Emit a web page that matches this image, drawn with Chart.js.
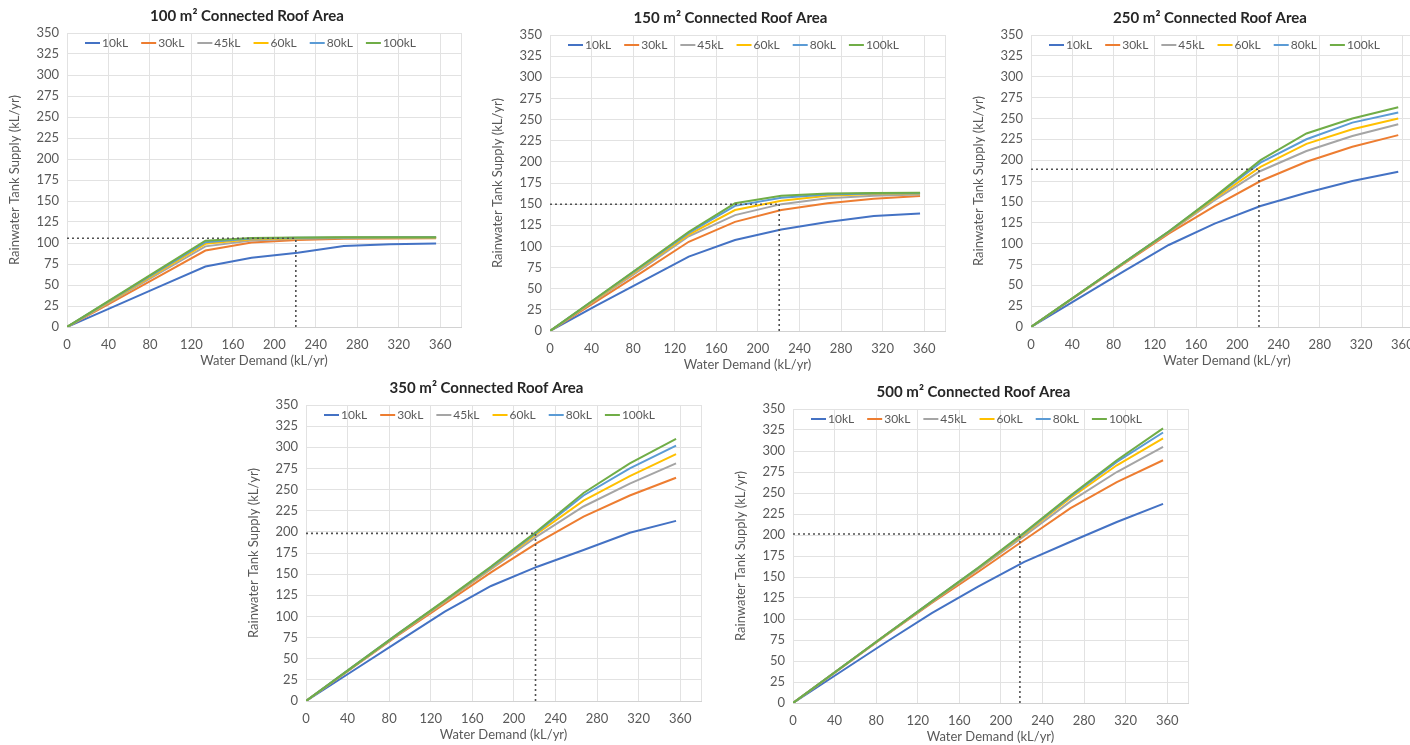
<!DOCTYPE html>
<html>
<head>
<meta charset="utf-8">
<title>Rainwater Tank Supply</title>
<script src="https://cdn.jsdelivr.net/npm/chart.js@4.4.0/dist/chart.umd.min.js"></script>
<style>
  html, body { margin: 0; padding: 0; background: #fff; }
  body { width: 1410px; height: 745px; position: relative; overflow: hidden; }
  canvas { position: absolute; }
</style>
</head>
<body>
<canvas id="c100"></canvas>
<canvas id="c150"></canvas>
<canvas id="c250"></canvas>
<canvas id="c350"></canvas>
<canvas id="c500"></canvas>
<script>
// Water demand (kL/yr) at which each tank size was simulated
const demand = [0, 44.5, 89, 133.5, 178, 222.5, 267, 311.5, 356];
const tankSizes = ['10kL', '30kL', '45kL', '60kL', '80kL', '100kL'];
const xTicks = [0, 40, 80, 120, 160, 200, 240, 280, 320, 360];
const xMax = 380;
const yMax = 350;
const yStep = 25;

// Rainwater tank supply (kL/yr), one row per tank size
const supply100 = [
    [0, 24, 48, 72, 82.5, 88.5, 96.5, 98.5, 99.5],
    [0, 30.3, 60.5, 91, 100.5, 103.5, 105, 105.5, 105.6],
    [0, 32, 64, 96, 103, 105, 106, 106.2, 106.3],
    [0, 33, 66, 99, 104.5, 105.8, 106.4, 106.5, 106.5],
    [0, 33.7, 67.3, 101, 105.5, 106.3, 106.6, 106.7, 106.7],
    [0, 34.3, 68.5, 102.8, 106, 106.6, 106.8, 106.8, 106.8]
];
const supply150 = [
    [0, 30, 59, 88, 107.5, 120, 129, 136, 139],
    [0, 35, 70, 105.5, 129, 143, 151, 156.5, 159.5],
    [0, 37, 74, 112, 137, 150, 157, 160, 161.5],
    [0, 38, 76, 114, 143, 154, 160, 162, 162.5],
    [0, 38.7, 77.3, 116, 148, 157.5, 161.5, 162.5, 163],
    [0, 39, 78, 117.4, 151, 160, 162.7, 163.3, 163.5]
];
const supply250 = [
    [0, 33, 66, 98.3, 124, 145, 161, 175, 186],
    [0, 37.5, 75, 112, 145, 175, 198, 216, 230],
    [0, 38, 76, 113.5, 152, 187, 211, 229, 243],
    [0, 38, 76, 114, 154, 192, 219.5, 237, 250],
    [0, 38, 76.3, 114.3, 155.5, 197, 225, 245, 257],
    [0, 38.2, 76.4, 114.5, 156, 200, 232, 250, 263.5]
];
const supply350 = [
    [0, 35.2, 70.4, 105.6, 136, 158.8, 178.5, 199, 213],
    [0, 39, 78, 115, 152, 187, 218, 243, 264],
    [0, 39.5, 79, 117, 156, 195, 230, 257, 281],
    [0, 39.7, 79.5, 118, 157, 198, 237, 266, 292],
    [0, 40, 80, 118.5, 158, 200, 243, 275, 302],
    [0, 40, 80, 119, 159, 201, 246, 281, 310]
];
const supply500 = [
    [0, 36, 72, 107, 138.5, 168, 192, 215.5, 237],
    [0, 40, 80, 119, 156, 194, 232, 263, 289],
    [0, 40.3, 80.5, 120, 159, 199, 240, 275, 305],
    [0, 40.4, 80.8, 120.5, 160, 201, 244, 283, 315],
    [0, 40.5, 81, 121, 160.5, 202, 246, 287, 322],
    [0, 40.5, 81, 121, 161, 203, 247, 289, 327]
];

// Dotted read-off lines (demand, supply) per roof area
const refDemand = [220.7, 220.5, 221, 220.8, 218.3];
const refSupply = [105.6, 149.8, 189, 198.2, 201.2];

const colors = ['#4472C4', '#ED7D31', '#A5A5A5', '#FFC000', '#5B9BD5', '#70AD47'];
const textColor = '#595959';
const gridColor = '#e2e2e2';
const fontFamily = 'Lato, "Open Sans", sans-serif';

// plot area of each panel in page pixels: left, top, right, bottom
const panels = [
    {id: 'c100', title: '100 m² Connected Roof Area', supply: supply100, plot: [67, 33, 461, 327]},
    {id: 'c150', title: '150 m² Connected Roof Area', supply: supply150, plot: [550, 35, 945, 331]},
    {id: 'c250', title: '250 m² Connected Roof Area', supply: supply250, plot: [1031, 35, 1423, 327]},
    {id: 'c350', title: '350 m² Connected Roof Area', supply: supply350, plot: [306, 405, 701, 701]},
    {id: 'c500', title: '500 m² Connected Roof Area', supply: supply500, plot: [793, 409, 1188, 703]}
];

const Y_AXIS_W = 60, X_AXIS_H = 42, TITLE_H = 26, RIGHT_W = 26;

// Excel-style legend in one row across the top of the plot area
const insideLegend = {
    id: 'insideLegend',
    afterDatasetsDraw(chart) {
        let ctx = chart.ctx, a = chart.chartArea;
        let x = a.left + 18, y = a.top + 10;
        ctx.save();
        ctx.font = '12px ' + fontFamily;
        ctx.textBaseline = 'middle';
        ctx.textAlign = 'left';
        chart.data.datasets.slice(0, tankSizes.length).forEach(function (ds) {
            ctx.strokeStyle = ds.borderColor;
            ctx.lineWidth = 2;
            ctx.beginPath();
            ctx.moveTo(x, y);
            ctx.lineTo(x + 15, y);
            ctx.stroke();
            x += 17;
            ctx.fillStyle = textColor;
            ctx.fillText(ds.label, x, y + 0.5);
            x += ctx.measureText(ds.label).width + 13;
        });
        ctx.restore();
    }
};

panels.forEach(function (p, k) {
    let canvas = document.getElementById(p.id);
    let [l, t, r, b] = p.plot;
    let left = l - Y_AXIS_W, top = t - TITLE_H;
    canvas.width = r + RIGHT_W - left;
    canvas.height = b + X_AXIS_H - top;
    canvas.style.left = left + 'px';
    canvas.style.top = top + 'px';

    let datasets = tankSizes.map((name, i) => ({
        label: name,
        data: demand.map((d, j) => ({x: d, y: p.supply[i][j]})),
        borderColor: colors[i],
        backgroundColor: colors[i],
        borderWidth: 2,
        pointRadius: 0,
        tension: 0,
        order: 10 - i
    }));

    let dotted = {
        borderColor: '#505050', borderWidth: 1.6, borderDash: [2, 3],
        pointRadius: 0, order: 0
    };
    datasets.push(Object.assign({label: 'ref-h', data: [{x: 0, y: refSupply[k]}, {x: refDemand[k], y: refSupply[k]}]}, dotted));
    datasets.push(Object.assign({label: 'ref-v', data: [{x: refDemand[k], y: 0}, {x: refDemand[k], y: refSupply[k]}]}, dotted));

    new Chart(canvas, {
        type: 'line',
        data: {datasets: datasets},
        options: {
            responsive: false,
            animation: false,
            layout: {padding: 0},
            plugins: {
                title: {
                    display: true, text: p.title, color: '#262626',
                    font: {family: fontFamily, size: 15, weight: 'bold'},
                    padding: {top: 0, bottom: 8}
                },
                legend: {display: false},
                tooltip: {enabled: false}
            },
            scales: {
                x: {
                    type: 'linear', min: 0, max: xMax,
                    afterBuildTicks: s => { s.ticks = xTicks.concat([xMax]).map(v => ({value: v})); },
                    afterFit: s => { s.height = X_AXIS_H; },
                    grid: {color: gridColor, drawTicks: false},
                    border: {color: '#d2d2d2'},
                    ticks: {
                        padding: 10, color: textColor, maxRotation: 0,
                        font: {family: fontFamily, size: 13},
                        callback: v => xTicks.includes(v) ? v : ''
                    },
                    title: {
                        display: true, text: 'Water Demand (kL/yr)', color: textColor,
                        font: {family: fontFamily, size: 13}, padding: {top: 0, bottom: 0}
                    }
                },
                y: {
                    min: 0, max: yMax,
                    afterFit: s => { s.width = Y_AXIS_W; },
                    grid: {color: gridColor, drawTicks: false},
                    border: {display: false},
                    ticks: {
                        stepSize: yStep, padding: 8, color: textColor,
                        font: {family: fontFamily, size: 13}
                    },
                    title: {
                        display: true, text: 'Rainwater Tank Supply (kL/yr)', color: textColor,
                        font: {family: fontFamily, size: 13}, padding: {top: 0, bottom: 0}
                    }
                },
                // empty strip on the right so the title sits where Excel put it
                yPad: {
                    position: 'right', display: true,
                    grid: {display: false}, border: {display: false}, ticks: {display: false},
                    afterFit: s => { s.width = RIGHT_W; }
                }
            }
        },
        plugins: [insideLegend]
    });
});
</script>
</body>
</html>
